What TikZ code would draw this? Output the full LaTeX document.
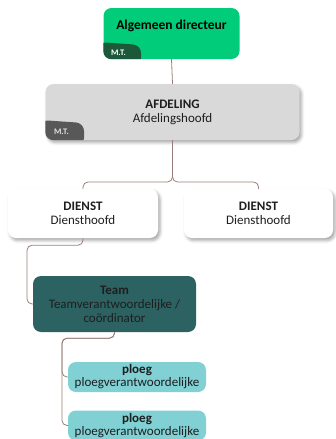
\documentclass[tikz,border=0pt]{standalone}
\usepackage{fontspec}
\setmainfont{Carlito}
\usetikzlibrary{shadows.blur}

\definecolor{dirgreen}{RGB}{0,204,122}
\definecolor{dirtab}{RGB}{28,88,58}
\definecolor{afdgray}{RGB}{217,217,217}
\definecolor{afdtab}{RGB}{88,88,88}
\definecolor{teamteal}{RGB}{44,98,98}
\definecolor{ploegteal}{RGB}{128,208,212}
\definecolor{linkbrown}{RGB}{152,126,120}
\definecolor{ink}{RGB}{30,30,30}

\tikzset{
  unitbox/.style={rounded corners=8pt, inner sep=0pt, align=center,
    font=\fontsize{13}{14}\selectfont, text=ink},
  shadowed/.style={blur shadow={shadow xshift=2pt, shadow yshift=-2.5pt,
    shadow blur radius=3pt, shadow opacity=35}},
  link/.style={draw=linkbrown, line width=0.8pt, rounded corners=5pt},
  tabtext/.style={font=\fontsize{8.5}{9}\selectfont\bfseries, inner sep=0pt},
}

\begin{document}
\begin{tikzpicture}[x=1pt, y=-1pt]
  \useasboundingbox (0,0) rectangle (336,439);

  % boxes
  \node[unitbox, fill=dirgreen, minimum width=136pt, minimum height=51pt]
    (dir) at (171.5,33.5) {};
  \node[unitbox, font=\fontsize{13.5}{14}\selectfont\bfseries, text=black]
    (dirtxt) at (171.5,26) {Algemeen directeur};

  \node[unitbox, fill=afdgray, shadowed, minimum width=254pt, minimum height=56pt]
    (afd) at (172.5,112) {\textbf{AFDELING}\\Afdelingshoofd};

  \node[unitbox, fill=white, shadowed, minimum width=150pt, minimum height=49pt]
    (d1) at (83,213.5) {\textbf{DIENST}\\Diensthoofd};
  \node[unitbox, fill=white, shadowed, minimum width=149pt, minimum height=49pt]
    (d2) at (258.5,213.5) {\textbf{DIENST}\\Diensthoofd};

  \node[unitbox, fill=teamteal, minimum width=163pt, minimum height=56pt]
    (team) at (114.5,304) {\textbf{Team}\\Teamverantwoordelijke /\\coördinator};

  \node[unitbox, fill=ploegteal, minimum width=138pt, minimum height=30pt,
        font=\fontsize{13}{13}\selectfont]
    (p1) at (137,377) {\textbf{ploeg}\\ploegverantwoordelijke};
  \node[unitbox, fill=ploegteal, minimum width=138pt, minimum height=30pt,
        font=\fontsize{13}{12.5}\selectfont]
    (p2) at (137,425.5) {\textbf{ploeg}\\ploegverantwoordelijke};

  % M.T. tabs in the lower left corners
  \begin{scope}
    \clip[rounded corners=8pt] (dir.south west) rectangle (dir.north east);
    \fill[dirtab, rounded corners=8pt] (98,66) -- (98,42) -- (141,45) -- (141,66) -- cycle;
  \end{scope}
  \node[tabtext, text=white] (dirmt) at (118.5,52.5) {M.T.};

  \begin{scope}
    \clip[rounded corners=8pt] (afd.south west) rectangle (afd.north east);
    \fill[afdtab, rounded corners=8pt] (40,146) -- (40,120) -- (84,123) -- (84,146) -- cycle;
  \end{scope}
  \node[tabtext, text=white!88!black] (afdmt) at (61.5,131.5) {M.T.};

  % connectors
  \coordinate (split) at (172.5,182);
  \coordinate (c1) at (27,304);
  \coordinate (c2) at (62,377);
  \coordinate (c3) at (62,425.5);

  \draw[link] (dir.south) -- (afd.north);
  \draw[link] (afd.south) -- (split) -| (d1.north);
  \draw[link] (afd.south) -- (split) -| (d2.north);
  \draw[link] (d1.south) -- ++(0,7) -| (c1) -- (team.west);
  \draw[link] (team.south) -- ++(0,6) -| (c2) -- (p1.west);
  \draw[link] (team.south) -- ++(0,6) -| (c3) -- (p2.west);
\end{tikzpicture}
\end{document}
